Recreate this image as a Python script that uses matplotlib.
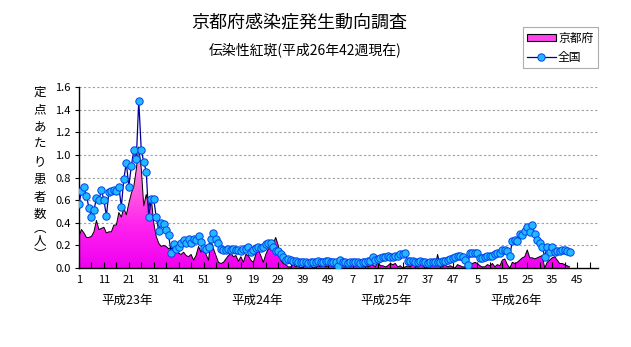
import numpy as np
import matplotlib
matplotlib.use("Agg")
import matplotlib.pyplot as plt
from matplotlib.colors import LinearSegmentedColormap
from matplotlib.lines import Line2D
from matplotlib.patches import Patch

plt.rcParams['font.family'] = ['Noto Sans CJK JP', 'DejaVu Sans']

# weekly reports per sentinel site, one list per year (52 slots each on the axis)
years = ["平成23年", "平成24年", "平成25年", "平成26年"]

kyoto_h23 = [0.28, 0.34, 0.31, 0.27, 0.27, 0.28, 0.32, 0.42, 0.34, 0.35,
             0.36, 0.31, 0.32, 0.32, 0.38, 0.38, 0.49, 0.45, 0.53, 0.47,
             0.57, 0.66, 0.72, 0.87, 1.07, 0.88, 0.55, 0.65, 0.54, 0.62,
             0.40, 0.28, 0.22, 0.19, 0.20, 0.19, 0.17, 0.18, 0.14, 0.16,
             0.13, 0.12, 0.14, 0.11, 0.10, 0.12, 0.07, 0.11, 0.19, 0.14,
             0.22, 0.12]
kyoto_h24 = [0.07, 0.24, 0.17, 0.11, 0.05, 0.04, 0.05, 0.08, 0.11, 0.13,
             0.10, 0.11, 0.06, 0.10, 0.05, 0.12, 0.11, 0.07, 0.05, 0.12,
             0.16, 0.11, 0.05, 0.12, 0.17, 0.17, 0.22, 0.27, 0.20, 0.07,
             0.04, 0.03, 0.01, 0.01, 0.03, 0.01, 0.02, 0.00, 0.01, 0.03,
             0.01, 0.02, 0.00, 0.01, 0.02, 0.01, 0.03, 0.01, 0.02, 0.03,
             0.01, 0.02]
kyoto_h25 = [0.01, 0.02, 0.03, 0.01, 0.02, 0.01, 0.04, 0.03, 0.02, 0.04,
             0.01, 0.02, 0.01, 0.02, 0.03, 0.01, 0.06, 0.02, 0.02, 0.01,
             0.02, 0.04, 0.03, 0.04, 0.01, 0.02, 0.00, 0.01, 0.02, 0.01,
             0.04, 0.02, 0.01, 0.03, 0.02, 0.00, 0.01, 0.02, 0.03, 0.02,
             0.12, 0.02, 0.01, 0.03, 0.01, 0.02, 0.01, 0.00, 0.03, 0.02,
             0.01, 0.01]
kyoto_h26 = [0.02, 0.03, 0.04, 0.05, 0.04, 0.02, 0.01, 0.01, 0.03, 0.02,
             0.04, 0.01, 0.03, 0.02, 0.07, 0.08, 0.03, 0.00, 0.05, 0.04,
             0.05, 0.07, 0.09, 0.10, 0.16, 0.09, 0.09, 0.08, 0.09, 0.10,
             0.11, 0.00, 0.05, 0.07, 0.09, 0.10, 0.07, 0.04, 0.04, 0.03,
             0.02, 0.01]

national_h23 = [0.57, 0.68, 0.72, 0.64, 0.53, 0.45, 0.51, 0.62, 0.60, 0.69,
                0.60, 0.46, 0.67, 0.68, 0.69, 0.68, 0.72, 0.54, 0.79, 0.93,
                0.72, 0.90, 1.04, 0.96, 1.48, 1.04, 0.94, 0.85, 0.45, 0.61,
                0.61, 0.45, 0.33, 0.40, 0.39, 0.34, 0.29, 0.13, 0.21, 0.17,
                0.19, 0.22, 0.25, 0.22, 0.26, 0.22, 0.26, 0.25, 0.28, 0.23,
                0.18, 0.17]
national_h24 = [0.19, 0.26, 0.31, 0.26, 0.22, 0.17, 0.16, 0.16, 0.17, 0.16,
                0.17, 0.16, 0.16, 0.15, 0.17, 0.17, 0.19, 0.14, 0.16, 0.18,
                0.19, 0.18, 0.19, 0.21, 0.22, 0.22, 0.19, 0.15, 0.15, 0.12,
                0.10, 0.07, 0.08, 0.07, 0.06, 0.06, 0.05, 0.05, 0.05, 0.05,
                0.04, 0.05, 0.05, 0.05, 0.06, 0.05, 0.05, 0.06, 0.06, 0.05,
                0.05, 0.05]
national_h25 = [0.02, 0.07, 0.05, 0.05, 0.04, 0.05, 0.05, 0.05, 0.05, 0.04,
                0.05, 0.05, 0.06, 0.06, 0.10, 0.07, 0.08, 0.09, 0.10, 0.10,
                0.11, 0.10, 0.10, 0.11, 0.11, 0.12, 0.12, 0.13, 0.06, 0.06,
                0.06, 0.05, 0.05, 0.06, 0.05, 0.05, 0.04, 0.05, 0.05, 0.05,
                0.05, 0.05, 0.06, 0.06, 0.07, 0.08, 0.09, 0.10, 0.11, 0.11,
                0.10, 0.07]
national_h26 = [0.03, 0.13, 0.13, 0.13, 0.13, 0.09, 0.09, 0.10, 0.11, 0.11,
                0.11, 0.12, 0.13, 0.13, 0.16, 0.16, 0.15, 0.11, 0.24, 0.25,
                0.24, 0.30, 0.29, 0.33, 0.36, 0.32, 0.38, 0.30, 0.25, 0.22,
                0.19, 0.10, 0.19, 0.14, 0.19, 0.14, 0.15, 0.15, 0.16, 0.16,
                0.15, 0.14]

kyoto = np.array(kyoto_h23 + kyoto_h24 + kyoto_h25 + kyoto_h26)
national = np.array(national_h23 + national_h24 + national_h25 + national_h26)
x = np.arange(len(kyoto))
WEEKS = 52

fig = plt.figure(figsize=(6.31, 3.47), dpi=100)
ax = fig.add_axes([79 / 631, 1 - 268 / 347, 519 / 631, 181 / 347])

# Kyoto: vertical magenta gradient clipped to the area under the curve
poly = ax.fill_between(x, kyoto, 0, facecolor='none', edgecolor='none')
cmap = LinearSegmentedColormap.from_list(
    'kyoto', ['#f000f0', '#ff22ee', '#ff66dd', '#ffa0e0'])
grad = np.linspace(0, 1, 256).reshape(-1, 1)
img = ax.imshow(grad, extent=[0, x[-1], 0, 1.1], origin='lower',
                aspect='auto', cmap=cmap, zorder=1, interpolation='bilinear')
img.set_clip_path(poly.get_paths()[0], ax.transData)
ax.plot(x, kyoto, color='black', lw=0.7, zorder=2)

# national average
ax.plot(x, national, color='#000099', lw=0.9, marker='o', ms=5.3,
        mfc='#22b8ff', mec='#0044ee', mew=0.7, zorder=3)

ax.set_xlim(0, 208.4)
ax.set_ylim(0, 1.6)

yticks = np.arange(0, 1.61, 0.2)
ax.set_yticks(yticks)
ax.set_yticklabels([f"{v:.1f}" for v in yticks])
for v in yticks[1:]:
    ax.axhline(v, color='#a0a0a0', lw=0.8, ls=(0, (2, 2)), zorder=0)

major = np.arange(0, 201, 10)
ax.set_xticks(major)
ax.set_xticklabels([str(i % WEEKS + 1) for i in major])
ax.set_xticks(np.arange(0, 208, 5), minor=True)
ax.tick_params(axis='x', which='both', direction='in', length=4,
               width=0.8, labelsize=8, pad=5)
ax.tick_params(axis='y', direction='out', length=3, width=0.8,
               labelsize=8, pad=3)

for s in ('top', 'right'):
    ax.spines[s].set_visible(False)
for s in ('left', 'bottom'):
    ax.spines[s].set_linewidth(1.0)
    ax.spines[s].set_color('black')

# year captions under the week numbers
for k, name in enumerate(years):
    ax.text(WEEKS * k + 19.5, -0.18, name, transform=ax.get_xaxis_transform(),
            ha='center', va='center', fontsize=9)

# vertical y-axis caption, one glyph per line
ylabel = ["定", "点", "あ", "た", "り", "患", "者", "数", "︵", "人", "︶"]
ypos = 92
for ch in ylabel:
    fig.text(40 / 631, 1 - ypos / 347, ch, ha='center', va='center', fontsize=9)
    ypos += 13.5 if ch in "数︵人" else 17.5

fig.text(299 / 631, 1 - 22 / 347, "京都府感染症発生動向調査",
         ha='center', va='center', fontsize=13)
fig.text(305 / 631, 1 - 50 / 347, "伝染性紅斑(平成26年42週現在)",
         ha='center', va='center', fontsize=10)

handles = [
    Patch(facecolor='#ff44ee', edgecolor='black', lw=0.8),
    Line2D([], [], color='#000099', lw=0.9, marker='o', ms=5.3,
           mfc='#22b8ff', mec='#0044ee', mew=0.7),
]
leg = fig.legend(handles, ['京都府', '全国'], loc='upper right',
                 bbox_to_anchor=(598 / 631, 1 - 27 / 347), fontsize=8.5,
                 frameon=True, fancybox=False, handlelength=2.4,
                 handleheight=0.5, borderpad=0.4, labelspacing=0.5,
                 handletextpad=0.2, borderaxespad=0)
leg.get_frame().set_edgecolor('#999999')
leg.get_frame().set_linewidth(0.8)

fig.savefig("out.png", dpi=100)
